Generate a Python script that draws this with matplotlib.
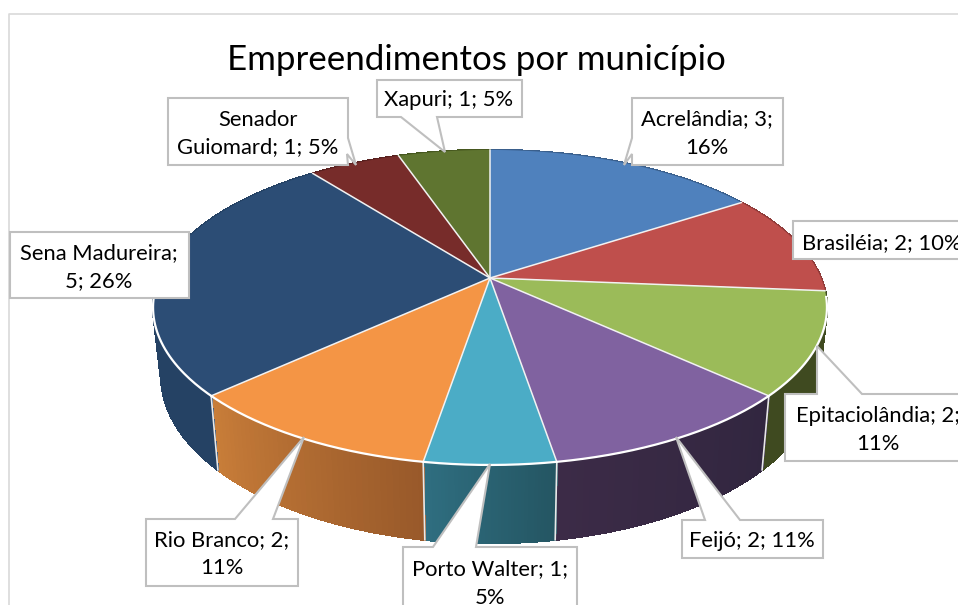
import numpy as np
import matplotlib
matplotlib.use("Agg")
import matplotlib.pyplot as plt
from matplotlib.colors import to_rgb

# ---- data ----
municipios = ["Acrelândia", "Brasiléia", "Epitaciolândia", "Feijó", "Porto Walter",
              "Rio Branco", "Sena Madureira", "Senador Guiomard", "Xapuri"]
valores = [3, 2, 2, 2, 1, 2, 5, 1, 1]
percentuais = [16, 10, 11, 11, 5, 11, 26, 5, 5]
titulo = "Empreendimentos por município"

# ---- styles ----
top_colors = ["#4f81bd", "#bf4f4c", "#9bbb59", "#8062a0", "#4bacc6",
              "#f49545", "#2c4d75", "#772c2a", "#5f7530"]
wall_start = ["#3a5f8c", "#8e3b39", "#3f4a20", "#31263f", "#245562",
              "#98592a", "#254264", "#58201f", "#46571f"]
wall_end = ["#3a5f8c", "#8e3b39", "#3f4a20", "#3c2b47", "#2f6e80",
            "#c87d39", "#254264", "#58201f", "#46571f"]
FONT = "Lato"
EDGE = "#bfbfbf"

# ---- projection of the tilted disc onto the page ----
CX = 490.0
K = 0.187


def project(theta, a, b, cy):
    w = 1 + K * np.cos(theta)
    return CX + a * np.sin(theta) / w, cy + b * (-np.cos(theta)) / w


def top(theta):
    return project(theta, 331.0, 152.0, 278.0)


def bottom(theta):
    return project(theta, 323.0, 161.0, 345.0)


fig = plt.figure(figsize=(9.58, 6.05), dpi=100)
ax = fig.add_axes([0, 0, 1, 1])
ax.set_xlim(0, 958)
ax.set_ylim(605, 0)
ax.axis("off")

# chart frame
ax.plot([9.5, 9.5, 958], [605, 13.5, 13.5], color="#d9d9d9", lw=1.2, zorder=1)

cum = np.concatenate([[0], np.cumsum(valores)]) / np.sum(valores) * 2 * np.pi

# side walls (gradient built from thin strips)
for i in range(len(valores)):
    ts = np.linspace(cum[i], cum[i + 1], 41)
    c0, c1 = np.array(to_rgb(wall_start[i])), np.array(to_rgb(wall_end[i]))
    xt, yt = top(ts)
    xb, yb = bottom(ts)
    # solid silhouette first so the strip joins cannot show the page through
    ax.fill(np.r_[xt, xb[::-1]], np.r_[yt, yb[::-1]], facecolor=(c0 + c1) / 2,
            edgecolor="none", zorder=2)
    for j in range(40):
        col = c0 + (c1 - c0) * (j + 0.5) / 40
        ax.fill([xt[j], xt[j + 1], xb[j + 1], xb[j]], [yt[j], yt[j + 1], yb[j + 1], yb[j]],
                facecolor=col, edgecolor=col, lw=1.0, antialiased=False, zorder=2.1)

# seams between front walls
for c in cum:
    if np.cos(c) < -0.3:
        xt, yt = top(c)
        xb, yb = bottom(c)
        ax.plot([xt, xb], [yt, yb], color="#e8e8e8", lw=1.2, zorder=3)

# top faces
for i in range(len(valores)):
    ts = np.linspace(cum[i], cum[i + 1], 120)
    x, y = top(ts)
    ax.fill(np.r_[CX, x], np.r_[278.0, y], facecolor=top_colors[i],
            edgecolor="none", zorder=4)
    x0, y0 = top(cum[i])
    ax.plot([CX, x0], [278.0, y0], color="#f2f2f2", lw=1.1, zorder=5)

# front rim highlight
rim = np.linspace(np.radians(97), np.radians(283), 300)
ax.plot(*top(rim), color="white", lw=1.6, zorder=5)

# ---- callouts: outline of each white box with its pointer ----
callouts = [
    # Acrelândia
    [(632, 98), (783, 98), (783, 165), (632, 165), (632, 154), (624, 165), (632, 138)],
    # Brasiléia
    [(793, 221), (965, 221), (965, 259), (793, 259)],
    # Epitaciolândia
    [(785, 394), (817, 394), (817, 346), (862, 394), (965, 394), (965, 461), (785, 461)],
    # Feijó
    [(682, 520), (705, 520), (676, 437), (740, 520), (823, 520), (823, 558), (682, 558)],
    # Porto Walter
    [(403, 547), (433, 547), (490, 464), (476, 547), (577, 547), (577, 612), (403, 612)],
    # Rio Branco
    [(146, 519), (235, 519), (304, 437), (273, 519), (298, 519), (298, 586), (146, 586)],
    # Sena Madureira
    [(10, 232), (189, 232), (189, 298), (10, 298)],
    # Senador Guiomard
    [(168, 98), (348, 98), (348, 138), (356, 165), (347, 154), (348, 165), (168, 165)],
    # Xapuri
    [(377, 80), (522, 80), (522, 117), (437, 117), (445, 152), (401, 117), (377, 117)],
]
for pts in callouts:
    p = np.array(pts, dtype=float)
    ax.fill(p[:, 0], p[:, 1], facecolor="white", edgecolor=EDGE, lw=1.5,
            joinstyle="miter", zorder=6)

# ---- label text ----
line_breaks = {
    "Acrelândia": "{n}; {v};\n{p}%",
    "Brasiléia": "{n}; {v}; {p}%",
    "Epitaciolândia": "{n}; {v};\n{p}%",
    "Feijó": "{n}; {v}; {p}%",
    "Porto Walter": "{n}; {v};\n{p}%",
    "Rio Branco": "{n}; {v};\n{p}%",
    "Sena Madureira": "{n};\n{v}; {p}%",
    "Xapuri": "{n}; {v}; {p}%",
}
label_pos = [(707, 133.5), (802, 243), (878, 430.5), (752, 541), (490, 583.5),
             (222, 554.5), (99, 267), (258, 133.5), (449, 100)]
for i, n in enumerate(municipios):
    if n == "Senador Guiomard":
        s = f"Senador\nGuiomard; {valores[i]}; {percentuais[i]}%"
    else:
        s = line_breaks[n].format(n=n, v=valores[i], p=percentuais[i])
    lx, ly = label_pos[i]
    ha = "left" if n == "Brasiléia" else "center"
    ax.text(lx, ly, s, family=FONT, fontsize=15.8, color="black", ha=ha, va="center",
            multialignment="center", linespacing=1.5, zorder=7, clip_on=False)

ax.text(476, 60, titulo, family=FONT, fontsize=25.1, color="black", ha="center",
        va="center", zorder=7)

fig.savefig("out.png", dpi=100)
